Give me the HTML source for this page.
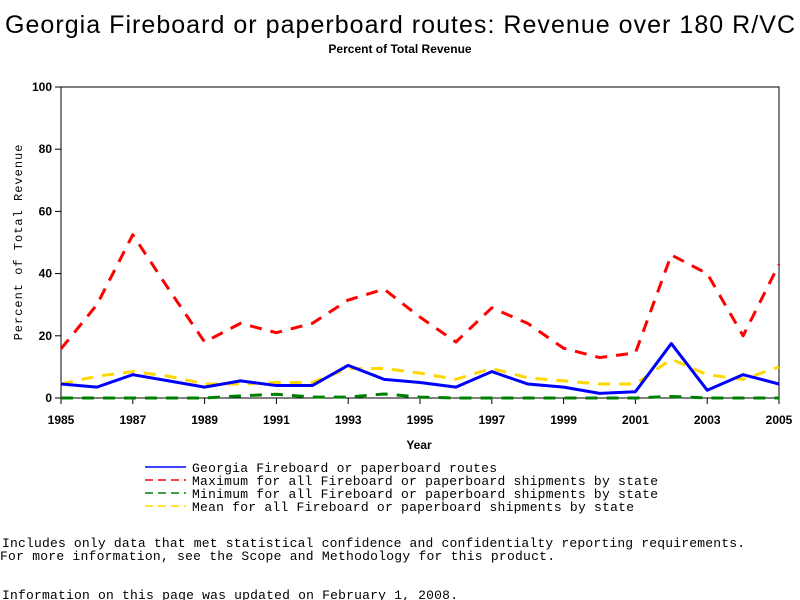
<!DOCTYPE html>
<html><head><meta charset="utf-8"><style>
html,body{margin:0;padding:0;background:#fff;width:800px;height:600px;overflow:hidden}
svg{display:block}
</style></head><body>
<svg id="chart" width="800" height="600" xmlns="http://www.w3.org/2000/svg">
<text x="400" y="33" text-anchor="middle" font-family="Liberation Sans, sans-serif" font-size="25" textLength="790">Georgia Fireboard or paperboard routes: Revenue over 180 R/VC</text>
<text x="400" y="53" text-anchor="middle" font-family="Liberation Sans, sans-serif" font-size="12" font-weight="bold">Percent of Total Revenue</text>
<rect x="61" y="87" width="718" height="311" fill="none" stroke="#000" stroke-width="1"/>
<g id="axes"></g>
<g id="series"></g>
<text x="419" y="449" text-anchor="middle" font-family="Liberation Sans, sans-serif" font-size="12" font-weight="bold">Year</text>
<text transform="translate(22,242) rotate(-90)" text-anchor="middle" font-family="Liberation Mono, monospace" font-size="12" letter-spacing="1">Percent of Total Revenue</text>
<g font-family="Liberation Mono, monospace" font-size="13">
<line x1="145" y1="467" x2="186" y2="467" stroke="#0000ff" stroke-width="1.5"/>
<text x="192" y="472" textLength="305">Georgia Fireboard or paperboard routes</text>
<line x1="145" y1="480" x2="186" y2="480" stroke="#ff0000" stroke-width="1.5" stroke-dasharray="8,5"/>
<text x="192" y="485" textLength="466">Maximum for all Fireboard or paperboard shipments by state</text>
<line x1="145" y1="493" x2="186" y2="493" stroke="#008000" stroke-width="1.5" stroke-dasharray="8,5"/>
<text x="192" y="498" textLength="466">Minimum for all Fireboard or paperboard shipments by state</text>
<line x1="145" y1="506" x2="186" y2="506" stroke="#ffd700" stroke-width="1.5" stroke-dasharray="8,5"/>
<text x="192" y="511" textLength="442">Mean for all Fireboard or paperboard shipments by state</text>
</g>
<g font-family="Liberation Mono, monospace" font-size="13">
<text x="2" y="547" textLength="743">Includes only data that met statistical confidence and confidentialty reporting requirements.</text>
<text x="0" y="560" textLength="555">For more information, see the Scope and Methodology for this product.</text>
<text x="2" y="599" textLength="456">Information on this page was updated on February 1, 2008.</text>
</g>
</svg>
<script>
const years = [1985,1986,1987,1988,1989,1990,1991,1992,1993,1994,1995,1996,1997,1998,1999,2000,2001,2002,2003,2004,2005];
const georgia = [4.5,3.5,7.5,5.5,3.5,5.5,4,4,10.5,6,5,3.5,8.5,4.5,3.5,1.5,2,17.5,2.5,7.5,4.5];
const maxVals = [15.8,30,52.5,35,18,24,21,24,31.5,35,26,18,29,24,16,13,14.5,46,40,20,43];
const minVals = [0,0,0,0,0,0.7,1.2,0.3,0.3,1.3,0.3,0,0,0,0,0,0,0.5,0,0,0];
const meanVals = [4.5,7,8.5,7,4.5,4.5,5,5,9.5,9.5,8,6,9.5,6.5,5.5,4.5,4.5,12.5,7.5,6,10];
const yTicks = [0,20,40,60,80,100];
const xTicks = [1985,1987,1989,1991,1993,1995,1997,1999,2001,2003,2005];
const NS='http://www.w3.org/2000/svg';
const X0=61,X1=779,Y0=398,Y1=87;
function xs(v){return X0+(v-1985)/(2005-1985)*(X1-X0);}
function ys(v){return Y0-v/100*(Y0-Y1);}
const axes=document.getElementById('axes');
yTicks.forEach(t=>{
  const l=document.createElementNS(NS,'line');
  l.setAttribute('x1',X0-6);l.setAttribute('x2',X0);l.setAttribute('y1',ys(t));l.setAttribute('y2',ys(t));l.setAttribute('stroke','#000');
  
  
  axes.appendChild(l);
  const tx=document.createElementNS(NS,'text');
  tx.setAttribute('x',X0-9);tx.setAttribute('y',ys(t)+4);tx.setAttribute('text-anchor','end');
  tx.setAttribute('font-family','Liberation Sans, sans-serif');tx.setAttribute('font-size','12');tx.setAttribute('font-weight','bold');
  tx.textContent=t;
  
  
  axes.appendChild(tx);
});
xTicks.forEach(t=>{
  const l=document.createElementNS(NS,'line');
  l.setAttribute('x1',xs(t));l.setAttribute('x2',xs(t));l.setAttribute('y1',Y0);l.setAttribute('y2',Y0+6);l.setAttribute('stroke','#000');
  
  
  axes.appendChild(l);
  const tx=document.createElementNS(NS,'text');
  tx.setAttribute('x',xs(t));tx.setAttribute('y',Y0+26);tx.setAttribute('text-anchor','middle');
  tx.setAttribute('font-family','Liberation Sans, sans-serif');tx.setAttribute('font-size','12');tx.setAttribute('font-weight','bold');
  tx.textContent=t;
  
  
  axes.appendChild(tx);
});
const ser=document.getElementById('series');
function draw(vals,color,dash,name){
  const p=document.createElementNS(NS,'polyline');
  p.setAttribute('points',vals.map((v,i)=>xs(years[i])+','+ys(v)).join(' '));
  p.setAttribute('fill','none');p.setAttribute('stroke',color);p.setAttribute('stroke-width','3');
  p.setAttribute('stroke-linejoin','round');
  if(dash)p.setAttribute('stroke-dasharray',dash);
  
  
  ser.appendChild(p);
}
draw(minVals,'#008000','12,9','series-minimum');
draw(meanVals,'#ffd700','12,9','series-mean');
draw(maxVals,'#ff0000','12,9','series-maximum');
draw(georgia,'#0000ff',null,'series-georgia');
</script>
</body></html>
